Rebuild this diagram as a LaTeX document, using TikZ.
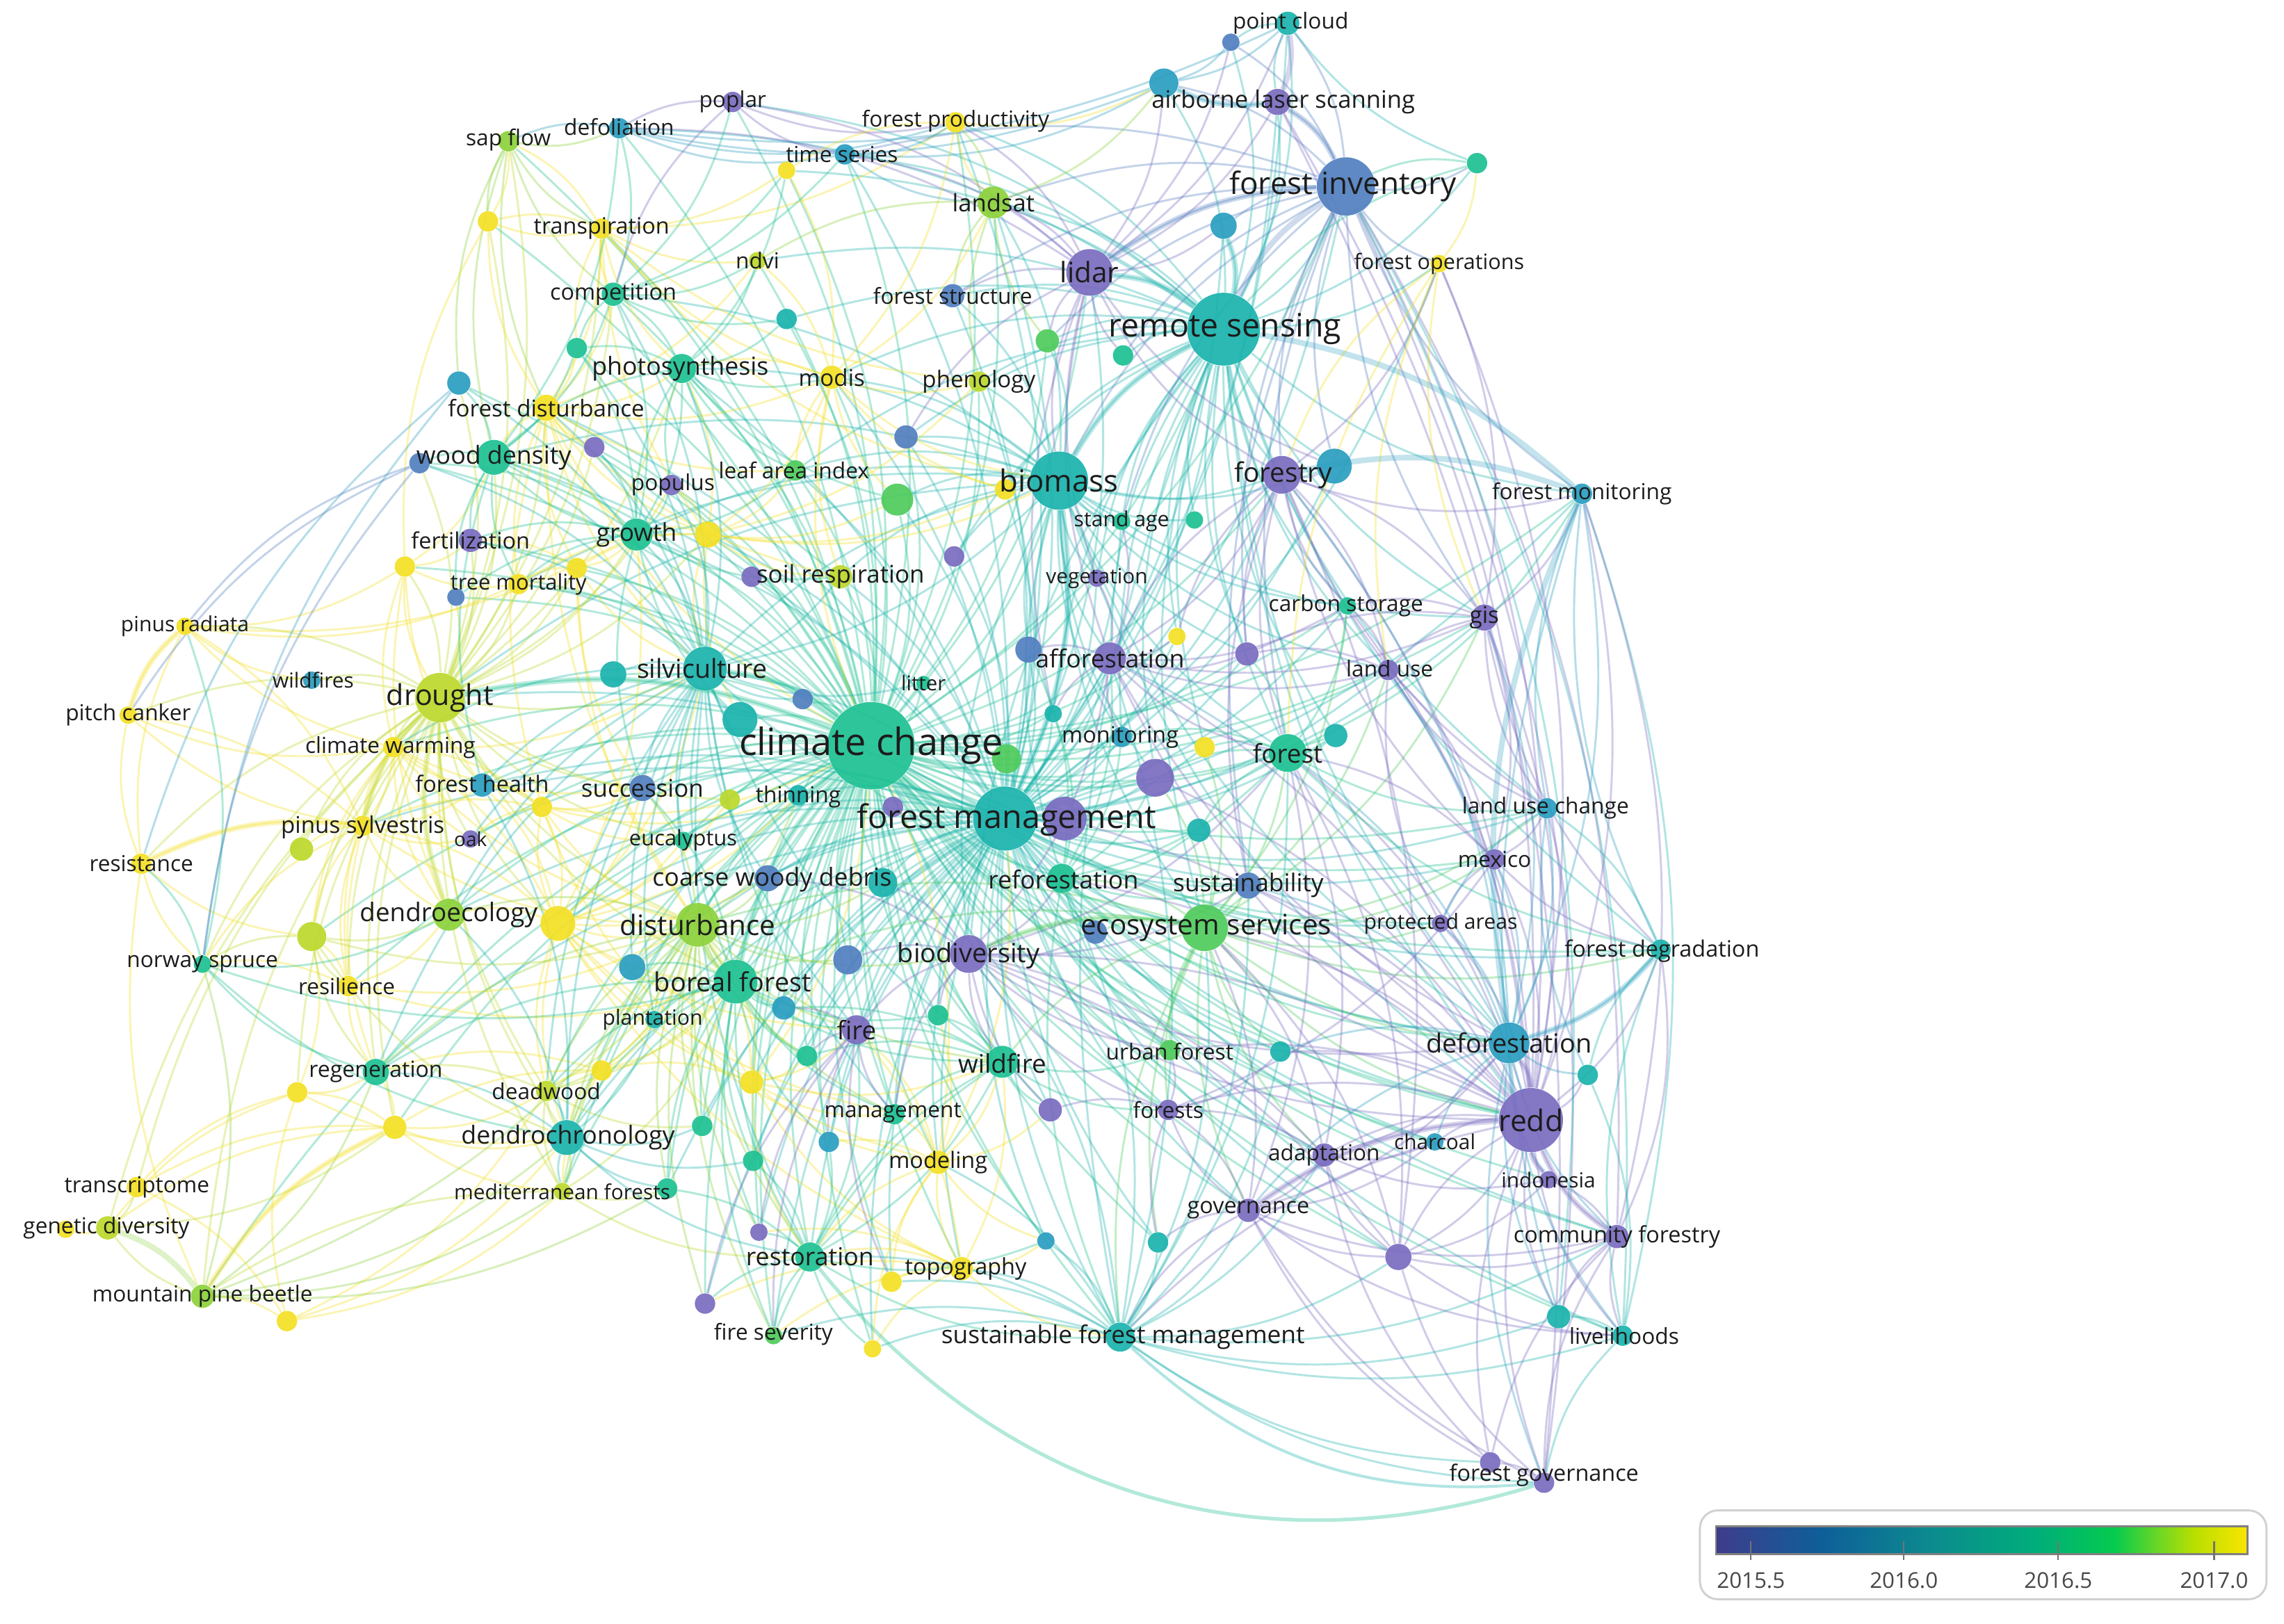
\documentclass[tikz,border=0pt]{standalone}
\usepackage{fontspec}
\setmainfont{Open Sans}
\definecolor{cP}{HTML}{7A6CC0}
\definecolor{cB}{HTML}{527FC0}
\definecolor{cT}{HTML}{2A9EC0}
\definecolor{cS}{HTML}{1BB3AD}
\definecolor{cG}{HTML}{1EC193}
\definecolor{cH}{HTML}{4FCB5C}
\definecolor{cL}{HTML}{8CD23A}
\definecolor{cX}{HTML}{BCD92C}
\definecolor{cY}{HTML}{F4E024}
\definecolor{txt}{HTML}{1C1C1C}
\definecolor{v0}{HTML}{3F3C8C}
\definecolor{v1}{HTML}{0E5F99}
\definecolor{v2}{HTML}{0C8A8F}
\definecolor{v3}{HTML}{00AD7B}
\definecolor{v4}{HTML}{05CB4E}
\definecolor{v5}{HTML}{5ED52A}
\definecolor{v6}{HTML}{BADF00}
\definecolor{v7}{HTML}{FAE500}
\pgfdeclarehorizontalshading{viridisbar}{100bp}{color(0bp)=(v0); color(25bp)=(v0); color(35bp)=(v1); color(45bp)=(v2); color(55bp)=(v3); color(62.5bp)=(v4); color(66bp)=(v5); color(70bp)=(v6); color(75bp)=(v7); color(100bp)=(v7)}
\pgfdeclarelayer{back}
\pgfdeclarelayer{bg}
\pgfsetlayers{back,bg,main}
\tikzset{
  kwc/.style={circle, inner sep=0pt, draw=none, fill opacity=0.92},
  lbl/.style={inner sep=0pt, text=txt},
  lnk/.style={line width=0.8pt, draw opacity=0.34},
  strong/.style={line width=2.2pt, draw opacity=0.28},
  legtxt/.style={inner sep=0pt, text=black!72, font=\fontsize{8.5}{8.5}\selectfont}
}
\newcommand\kw[5]{\colorlet{col#1}{#5}\node[kwc, fill=#5, minimum size={#4*0.4mm}] (#1) at (#2,#3) {};}
\newcommand\lb[5]{\node[lbl, font=\fontsize{#4}{#4}\selectfont] (#1l) at (#2,#3) {#5};}
\begin{document}
\begin{tikzpicture}[x=0.2mm, y=-0.2mm]
\useasboundingbox (0,0) rectangle (1568,1115);
\begin{pgfonlayer}{back}
\fill[white] (0,0) rectangle (1568,1115);
\end{pgfonlayer}
% ---------------- circles ----------------
\kw{pc}{884}{16}{8}{cS}
\kw{pcb}{845}{29}{6}{cB}
\kw{als}{877}{70}{9}{cP}
\kw{alst}{799}{57}{10}{cT}
\kw{pop}{503}{70}{7}{cP}
\kw{def}{425}{88}{7}{cT}
\kw{sap}{349}{97}{7}{cL}
\kw{fp}{656}{84}{7}{cY}
\kw{ts}{580}{106}{7}{cT}
\kw{tsy}{540}{117}{6}{cY}
\kw{fi}{924}{128}{20}{cB}
\kw{fig}{1014}{112}{7}{cG}
\kw{tr}{413}{157}{7}{cY}
\kw{try}{335}{152}{7}{cY}
\kw{ls}{682}{139}{11}{cL}
\kw{fit}{840}{155}{9}{cT}
\kw{ndvi}{520}{179}{6}{cX}
\kw{fo}{988}{181}{6}{cY}
\kw{lid}{748}{187}{16}{cP}
\kw{comp}{421}{202}{8}{cG}
\kw{fstr}{654}{203}{8}{cB}
\kw{u19}{540}{219}{7}{cS}
\kw{rs}{840}{226}{25}{cS}
\kw{u21a}{719}{234}{8}{cH}
\kw{u21b}{771}{244}{7}{cG}
\kw{u22}{396}{239}{7}{cG}
\kw{ph}{468}{253}{10}{cG}
\kw{mod}{571}{259}{8}{cY}
\kw{phen}{672}{262}{7}{cX}
\kw{u26}{315}{263}{8}{cT}
\kw{fd}{375}{280}{9}{cY}
\kw{wd}{339}{314}{12}{cG}
\kw{wdb}{288}{318}{7}{cB}
\kw{u29}{408}{307}{7}{cP}
\kw{u30}{622}{300}{8}{cB}
\kw{popu}{461}{333}{7}{cP}
\kw{lai}{546}{323}{7}{cH}
\kw{u33}{616}{343}{11}{cH}
\kw{u34}{690}{336}{7}{cY}
\kw{bio}{727}{330}{20}{cS}
\kw{fy}{880}{326}{13}{cP}
\kw{fyb}{916}{320}{12}{cT}
\kw{fm}{1086}{339}{7}{cT}
\kw{sa}{770}{358}{6}{cG}
\kw{sag}{820}{357}{6}{cG}
\kw{fert}{323}{371}{8}{cP}
\kw{gro}{437}{367}{11}{cG}
\kw{u41}{486}{367}{9}{cY}
\kw{u42a}{278}{389}{7}{cY}
\kw{u42b}{396}{390}{7}{cY}
\kw{tm}{356}{401}{7}{cY}
\kw{tmb}{313}{410}{6}{cB}
\kw{sr}{577}{396}{8}{cX}
\kw{srp}{516}{396}{7}{cP}
\kw{u45}{655}{382}{7}{cP}
\kw{veg}{753}{397}{6}{cP}
\kw{cs}{925}{416}{6}{cG}
\kw{gis}{1019}{424}{9}{cP}
\kw{pr}{127}{430}{6}{cY}
\kw{u50}{808}{437}{6}{cY}
\kw{u51}{856}{449}{8}{cP}
\kw{silv}{484}{459}{15}{cS}
\kw{silt}{421}{463}{9}{cS}
\kw{aff}{762}{452}{11}{cP}
\kw{affb}{706}{446}{9}{cB}
\kw{lu}{953}{460}{7}{cP}
\kw{wfs}{214}{467}{6}{cT}
\kw{lit}{634}{469}{5}{cG}
\kw{dro}{302}{479}{17}{cX}
\kw{pcan}{88}{491}{6}{cY}
\kw{u59}{551}{480}{7}{cB}
\kw{u60}{508}{494}{12}{cS}
\kw{cc}{598}{512}{30}{cG}
\kw{u62}{723}{490}{6}{cS}
\kw{mon}{770}{506}{7}{cT}
\kw{u64}{827}{513}{7}{cY}
\kw{for}{884}{517}{13}{cG}
\kw{fort}{917}{505}{8}{cS}
\kw{cw}{270}{513}{7}{cY}
\kw{u67}{793}{534}{13}{cP}
\kw{u68}{691}{521}{10}{cH}
\kw{thin}{548}{546}{7}{cS}
\kw{thing}{501}{549}{7}{cX}
\kw{fh}{331}{539}{8}{cT}
\kw{succ}{441}{541}{9}{cB}
\kw{u72}{372}{554}{7}{cY}
\kw{luc}{1062}{555}{7}{cT}
\kw{fmg}{690}{562}{22}{cS}
\kw{fmgp}{731}{562}{15}{cP}
\kw{u74}{613}{554}{7}{cP}
\kw{u75}{823}{570}{8}{cS}
\kw{psy}{249}{567}{7}{cY}
\kw{psyg}{207}{583}{8}{cX}
\kw{oak}{323}{576}{6}{cP}
\kw{euc}{469}{577}{6}{cG}
\kw{mex}{1026}{590}{7}{cP}
\kw{res}{97}{593}{7}{cY}
\kw{cwd}{527}{603}{9}{cB}
\kw{cwdt}{606}{606}{10}{cS}
\kw{ref}{729}{603}{10}{cG}
\kw{sus}{857}{608}{9}{cB}
\kw{u84}{383}{634}{12}{cY}
\kw{deco}{308}{628}{11}{cL}
\kw{dist}{479}{635}{15}{cL}
\kw{es}{827}{637}{16}{cH}
\kw{esb}{752}{640}{8}{cB}
\kw{pa}{989}{634}{6}{cP}
\kw{u89}{214}{643}{10}{cX}
\kw{fdeg}{1140}{652}{7}{cS}
\kw{ns}{139}{662}{6}{cG}
\kw{u92}{434}{664}{9}{cT}
\kw{u93}{582}{659}{10}{cB}
\kw{bd}{665}{655}{13}{cP}
\kw{bf}{505}{674}{15}{cG}
\kw{resil}{239}{677}{7}{cY}
\kw{u97}{538}{692}{8}{cT}
\kw{u98}{644}{697}{7}{cG}
\kw{plant}{449}{700}{6}{cS}
\kw{fire}{588}{707}{10}{cP}
\kw{wf}{688}{729}{11}{cG}
\kw{uf}{803}{721}{7}{cH}
\kw{u103}{879}{722}{7}{cS}
\kw{defo}{1036}{716}{14}{cT}
\kw{u105}{1090}{738}{7}{cS}
\kw{u106}{554}{725}{7}{cG}
\kw{regen}{258}{736}{9}{cG}
\kw{u108a}{204}{750}{7}{cY}
\kw{u108b}{413}{735}{7}{cY}
\kw{u109}{516}{743}{8}{cY}
\kw{dw}{375}{749}{7}{cX}
\kw{redd}{1051}{769}{22}{cP}
\kw{mgmt}{614}{765}{7}{cG}
\kw{u113}{721}{762}{8}{cP}
\kw{frs}{802}{762}{7}{cP}
\kw{u115}{271}{774}{8}{cY}
\kw{dc}{389}{781}{12}{cS}
\kw{u117a}{482}{773}{7}{cG}
\kw{u117b}{569}{784}{7}{cT}
\kw{char}{985}{784}{6}{cT}
\kw{adap}{909}{793}{8}{cP}
\kw{u120}{517}{797}{7}{cG}
\kw{model}{644}{798}{8}{cY}
\kw{indo}{1063}{810}{6}{cP}
\kw{trans}{94}{815}{7}{cY}
\kw{medf}{386}{818}{6}{cX}
\kw{u124}{458}{816}{7}{cG}
\kw{gov}{857}{831}{8}{cP}
\kw{gd}{74}{843}{8}{cX}
\kw{gdy}{45}{844}{6}{cY}
\kw{cf}{1110}{849}{8}{cP}
\kw{u128}{521}{846}{6}{cP}
\kw{u129a}{718}{852}{6}{cT}
\kw{u129b}{795}{853}{7}{cS}
\kw{u130}{960}{863}{9}{cP}
\kw{rest}{556}{863}{10}{cG}
\kw{topo}{660}{871}{8}{cY}
\kw{u132}{612}{880}{7}{cY}
\kw{mpb}{139}{890}{8}{cL}
\kw{mpby}{197}{907}{7}{cY}
\kw{u134}{484}{895}{7}{cP}
\kw{u135}{1070}{904}{8}{cS}
\kw{fsev}{531}{917}{6}{cH}
\kw{u137}{599}{926}{6}{cY}
\kw{sfm}{769}{918}{10}{cS}
\kw{liv}{1114}{917}{7}{cS}
\kw{fgov}{1060}{1018}{7}{cP}
\kw{fgovb}{1023}{1004}{7}{cP}
% ---------------- labels ----------------
\lb{pc}{886}{16}{8.6}{point cloud}
\lb{als}{881}{70}{9.4}{airborne laser scanning}
\lb{pop}{503}{70}{8.6}{poplar}
\lb{def}{425}{87}{8.6}{defoliation}
\lb{sap}{349}{96}{8.6}{sap flow}
\lb{fp}{656}{83}{8.6}{forest productivity}
\lb{ts}{578}{106}{8.6}{time series}
\lb{fi}{922}{128}{12}{forest inventory}
\lb{tr}{413}{157}{8.8}{transpiration}
\lb{ls}{682}{139}{9.4}{landsat}
\lb{ndvi}{520}{179}{8.6}{ndvi}
\lb{fo}{988}{181}{8.3}{forest operations}
\lb{lid}{748}{187}{11}{lidar}
\lb{comp}{421}{202}{8.8}{competition}
\lb{fstr}{654}{203}{8.6}{forest structure}
\lb{rs}{841}{226}{12.6}{remote sensing}
\lb{ph}{467}{253}{9.7}{photosynthesis}
\lb{mod}{571}{259}{9}{modis}
\lb{phen}{672}{262}{9}{phenology}
\lb{fd}{375}{280}{9}{forest disturbance}
\lb{wd}{339}{314}{9.7}{wood density}
\lb{popu}{462}{333}{8.6}{populus}
\lb{lai}{545}{323}{8.6}{leaf area index}
\lb{bio}{727}{330}{11.9}{biomass}
\lb{fy}{881}{326}{10.5}{forestry}
\lb{fm}{1086}{339}{8.6}{forest monitoring}
\lb{sa}{770}{358}{8.2}{stand age}
\lb{fert}{323}{371}{8.8}{fertilization}
\lb{gro}{437}{367}{9.6}{growth}
\lb{tm}{356}{401}{8.4}{tree mortality}
\lb{sr}{577}{396}{9.5}{soil respiration}
\lb{veg}{753}{397}{8.1}{vegetation}
\lb{cs}{924}{416}{8.6}{carbon storage}
\lb{gis}{1019}{424}{9}{gis}
\lb{pr}{127}{430}{8.2}{pinus radiata}
\lb{silv}{482}{459}{10.2}{silviculture}
\lb{aff}{762}{452}{9.7}{afforestation}
\lb{lu}{954}{459}{8.6}{land use}
\lb{wfs}{215}{467}{8.1}{wildfires}
\lb{lit}{634}{469}{8}{litter}
\lb{dro}{302}{479}{11.2}{drought}
\lb{pcan}{88}{491}{8.6}{pitch canker}
\lb{cc}{598}{512}{14.7}{climate change}
\lb{mon}{769}{506}{8.8}{monitoring}
\lb{for}{884}{517}{10}{forest}
\lb{cw}{268}{513}{8.6}{climate warming}
\lb{thin}{548}{547}{8.6}{thinning}
\lb{fh}{331}{538}{8.8}{forest health}
\lb{succ}{441}{541}{9.5}{succession}
\lb{luc}{1061}{555}{8.6}{land use change}
\lb{fmg}{691}{563}{12.7}{forest management}
\lb{psy}{249}{568}{9}{pinus sylvestris}
\lb{oak}{323}{576}{7.6}{oak}
\lb{euc}{469}{577}{8.4}{eucalyptus}
\lb{mex}{1026}{590}{8.6}{mexico}
\lb{res}{97}{593}{8.6}{resistance}
\lb{cwd}{530}{604}{9.7}{coarse woody debris}
\lb{ref}{730}{604}{9.7}{reforestation}
\lb{sus}{857}{608}{9.6}{sustainability}
\lb{deco}{308}{628}{10}{dendroecology}
\lb{dist}{479}{635}{11}{disturbance}
\lb{es}{828}{637}{11}{ecosystem services}
\lb{pa}{989}{634}{8.2}{protected areas}
\lb{fdeg}{1141}{653}{8.8}{forest degradation}
\lb{ns}{139}{662}{8.6}{norway spruce}
\lb{bd}{665}{656}{10.3}{biodiversity}
\lb{bf}{503}{674}{10.3}{boreal forest}
\lb{resil}{238}{677}{8.6}{resilience}
\lb{plant}{448}{700}{8.2}{plantation}
\lb{fire}{588}{707}{10}{fire}
\lb{wf}{688}{730}{10}{wildfire}
\lb{uf}{803}{722}{8.6}{urban forest}
\lb{defo}{1036}{716}{10.3}{deforestation}
\lb{regen}{258}{736}{8.7}{regeneration}
\lb{dw}{375}{749}{8.6}{deadwood}
\lb{redd}{1051}{769}{11.6}{redd}
\lb{mgmt}{613}{764}{8.6}{management}
\lb{frs}{802}{762}{8.6}{forests}
\lb{dc}{390}{781}{9.7}{dendrochronology}
\lb{char}{985}{784}{8.1}{charcoal}
\lb{adap}{909}{793}{8.6}{adaptation}
\lb{model}{644}{798}{8.8}{modeling}
\lb{indo}{1063}{810}{8.1}{indonesia}
\lb{trans}{94}{815}{8.6}{transcriptome}
\lb{medf}{386}{818}{8.1}{mediterranean forests}
\lb{gov}{857}{831}{8.8}{governance}
\lb{gd}{73}{843}{8.6}{genetic diversity}
\lb{cf}{1110}{849}{8.8}{community forestry}
\lb{rest}{556}{863}{9.7}{restoration}
\lb{topo}{663}{871}{8.8}{topography}
\lb{mpb}{139}{890}{8.6}{mountain pine beetle}
\lb{fsev}{531}{916}{8.6}{fire severity}
\lb{sfm}{771}{918}{9.6}{sustainable forest management}
\lb{liv}{1115}{917}{8.6}{livelihoods}
\lb{fgov}{1060}{1013}{8.8}{forest governance}
% ---------------- links ----------------
\begin{pgfonlayer}{bg}
\foreach \a/\l in {
 cc/{silv,dro,bio,rs,fmg,dist,bf,es,bd,fire,wf,dc,rest,aff,ref,for,redd,defo,gro,ph,succ,thin,cwd,mon,lid,fi,fy,u60,u59,sr,mgmt,dw,deco,regen,fh,wd,comp,lai,phen,ls,ts,euc,plant,u93,u97,u106,sus,adap,sfm,uf,frs,lit,veg,u33,u30,u68,u67,fort,u75,cwdt,u92,u124,u120,tm,fert,u22,u19,u62,u21a,popu,srp,gov,u113},
 cc/{model,topo,u84,u89,psy,cw,resil,mpb,u109,u108b,u117a,u117b,u128,u134,fsev,u132,u137,medf,u115,sap,tr,def,pop,fp,tsy,ndvi,mod,try,fd,u26,wdb,u29,u41,u42a,u42b,tmb,oak,thing,silt,u74,u98,fmgp,esb,cs,lu,gis,luc,mex,pa,fdeg,fm,u50,u51,u64,u103,u129a,u129b,u130,char,indo,cf,liv},
 fmg/{rs,bio,lid,fi,fy,for,es,bd,ref,aff,sus,sfm,defo,redd,dist,bf,silv,dro,fire,wf,rest,mgmt,thin,cwd,mon,uf,frs,gov,adap,gis,lu,luc,mex,fdeg,cs,veg,sa,u67,u75,fort,u113,u129a,u129b,u103,pa,cf,liv,fm,u98,u93,cwdt,dc,gro,succ,u64,u50,u51,fyb,fstr,u45,affb,esb,char,u130},
 fmg/{fd,u84,psy,deco,regen,plant,u92,u97,u106,u109,u117a,u117b,u120,u124,u128,model,topo,u132,u137,fsev,u134,euc,fh,wd,ph,sr,lai,u33,u30,u34,u41,u62,u68,mod,phen,ls,ts,fp,fo,fit,als,pc},
 rs/{fi,lid,bio,fy,ls,fstr,fit,pc,pcb,als,alst,fm,fo,gis,lu,luc,defo,redd,for,mon,es,phen,mod,ndvi,ts,fp,u21a,u21b,sa,sag,aff,veg,cs,fort,u64,fdeg,sfm,u30,u34,u45,lai,bd,u62,u67,fig,u51,u50,fyb,pop,def,u19,tsy},
 fi/{lid,als,pc,pcb,alst,fit,fig,fo,bio,fy,fstr,ls,fm,for,gis,u51,sus,fyb,sa,u21a,u21b,ts},
 lid/{als,pc,pcb,fit,alst,fstr,bio,ls,fy,u21a,u21b,aff,u62,ts,fp,pop,def,fyb,veg,u30},
 bio/{fy,ls,fstr,sa,sag,aff,veg,lai,u33,u34,gro,ph,sr,u45,affb,mon,es,for,defo,redd,cs,u30,u62,u67,bd,wd,comp,tm,dro,silv,ref,u21a,phen,mod,fyb,gis,lu,u51},
 dro/{silv,gro,tm,fert,cw,fh,psy,psyg,deco,dc,wd,fd,tr,sap,comp,ph,pr,pcan,res,wfs,oak,u42a,u42b,u72,u84,u89,resil,regen,ns,dist,bf,succ,u26,wdb,tmb,try,mpb,gd,trans,u108a,u115,dw,medf,u41,euc,thing,popu,u29},
 fd/{tr,comp,ph,gro,u41,mod,ndvi,lai,u42b,u22,wd,tm,u29,sr,cc,silv,dist,u72},
 u84/{dist,silv,gro,succ,cwd,bf,fire,thin,u72,deco,dc,dw,psy,cw,fh,u109,mgmt,model,topo,thing,euc},
 u41/{gro,ph,sr,lai,u33,bio,u34,silv,popu,tm,u42b,u60,mod,phen},
 tr/{try,sap,comp,ph,ndvi,mod,u22,fp,tsy,phen,u41,u34},
 mod/{ndvi,ls,phen,lai,u33,ph,tsy,fp,sr,u34,bio,cc},
 u72/{fh,succ,oak,cw,psy,dist,thin,euc,u84,cc,u109},
 u109/{bf,fire,wf,model,topo,mgmt,u106,u108b,rest,dist,u92,cc},
 u108b/{dw,dc,plant,bf,medf,u115,regen,dist},
 model/{topo,mgmt,u132,wf,fire,u117b,u113,rest,u137,u129a,cc,fmg,u98},
 topo/{u132,rest,fire,u129a,u137,u128,wf,u134,sfm,fsev},
 psy/{res,pcan,pr,psyg,deco,u89,resil,cw,fh,oak,regen,ns,dist},
 pr/{pcan,res,cw,wfs,tm,u42a,gro},
 pcan/{res,cw,psy},
 res/{ns,u89,mpb},
 u115/{trans,gd,regen,u108a,dc,dw,medf,mpb},
 u108a/{trans,gd,regen,u89,dc,mpby},
 mpby/{mpb,trans,dw,dc,medf},
 gdy/{gd},
 gd/{trans,mpb,u115},
 sap/{try,tr,def,comp,fd,u26,wd},
 try/{tr,fd,sap,u42a},
 u42a/{fert,tm,wd,cw,deco,dro,fh},
 u42b/{gro,tm,fert,silv,succ,dist},
 cw/{fh,psy,oak,resil,deco,succ,dist,silv,u89},
 resil/{u89,regen,ns,deco,dist,bf},
 u89/{deco,ns,regen,dc,dist,resil},
 dw/{dc,regen,medf,plant,bf,dist,u117a},
 medf/{dc,mpb,rest,u124,bf},
 mpb/{dc,medf,regen,ns,dist,u124},
 ns/{regen,dc,deco,bf,pr,res},
 u26/{ns,res},
 wdb/{ns,pr,pcan},
 silv/{gro,succ,thin,cwd,dist,bf,dc,regen,deco,fh,euc,plant,wd,comp,ph,u60,silt,u59,fd,tm,fert,u92,dw,rest,fire,wf,mgmt,sr,popu,u29,lit,u22,wdb,u26,cw,oak,fmg,bio},
 dist/{bf,fire,wf,dc,rest,regen,succ,cwd,plant,u92,u93,u97,deco,dw,medf,u106,bd,fsev,mgmt,u117a,u124,u128,u134,thin,cwdt},
 bf/{fire,wf,dc,rest,plant,u97,u106,u117a,u117b,u120,u124,cwd,succ,regen,dw,medf,fsev,u128,mgmt,u92,u98},
 dc/{regen,dw,u124,u117a,deco,plant,fh,medf,u120,rest},
 rest/{fsev,u128,u134,u137,sfm,fire,wf,mgmt,u120,u117b,u124,u129a},
 wf/{fire,mgmt,rest,u98,u106,u97,fsev,u113,frs,uf},
 fire/{fsev,u128,u132,u106,u117b,u97,mgmt,u134},
 gro/{ph,comp,wd,fert,tm,u22,popu,lai,sr,u29,u60,succ,wdb,tmb},
 ph/{comp,u22,lai,sr,popu,u19,gro,wd,mod,tsy,ndvi,u33},
 wd/{wdb,fert,comp,u26,u22,tm,tmb,fh,gro,def},
 comp/{u22,def,ts,pop,tsy,ndvi,u19},
 es/{bd,sus,uf,frs,for,defo,redd,gov,adap,pa,mex,luc,lu,u103,u75,esb,ref,sfm,u129b,fdeg,u67,u64,cs,gis,bf,dist,wf},
 bd/{ref,aff,sus,fire,wf,u93,u98,cwdt,uf,frs,mgmt,esb,redd,defo,cwd,for,u113},
 ref/{aff,sus,esb,u75,for,u67,defo,redd,u62,affb,sfm,mon,uf},
 aff/{affb,veg,u50,u51,lu,cs,for,fy,mon,u62,defo,redd,gis,sa},
 redd/{defo,indo,cf,liv,char,adap,gov,frs,mex,pa,luc,fdeg,u105,u130,u135,fgov,fgovb,lu,gis,for,fy,sfm,uf,u103,cs,sus,aff,ref,es,bd,u67,fmgp},
 redd/{fi,als,fm,fo},
 fgov/{fi,als},
 liv/{fi,fm},
 cf/{fi,fm},
 u135/{fi},
 defo/{luc,fdeg,mex,indo,u105,cf,liv,u135,char,gov,fgov,pa,lu,gis,fm,for,fy,u103,sus,aff},
 gov/{adap,char,u130,frs,sfm,cf,liv,fgovb,fgov,u129b,es,defo,for},
 adap/{char,frs,u130,fgovb,indo,es,for,bd,defo},
 u130/{liv,cf,fgov,indo,redd,es,for,bd,fy},
 cf/{liv,u135,fgov,indo,fgovb,fdeg},
 frs/{uf,u113,u103,u129b,gov,mex},
 mex/{luc,pa,lu,gis,fdeg,for},
 gis/{lu,cs,luc,fm,fo,fy,u51,fdeg},
 lu/{luc,cs,u51,pa,fy},
 fy/{fyb,cs,u51,sus,fm,fo,u50,luc,mex,for,aff},
 for/{fort,u64,mon,luc,cs,u51,sus,u67,fm,fdeg,u75},
 sfm/{u129b,u129a,cf,liv,fgov,u135,u103,fgovb,rest,topo,u132,u137,fsev,model,bd,es,ref,aff,sus,for,gov,adap,u130},
 fm/{luc,fdeg,u135},
 fdeg/{luc,u105,liv},
 luc/{u105,pa},
 liv/{u135,u105,fgov},
 fgov/{fgovb},
 fo/{fig,fy,lu,gis,for},
 fig/{fi,rs},
 pop/{def,fp,ts,comp},
 def/{sap,ts,fp,pc,alst},
 ts/{fp,alst,ls},
 fp/{alst,ls,tsy},
 ls/{ndvi,phen,fp,alst,u21a,fstr},
 alst/{pc,als,pcb},
 pc/{pcb,als,fig}}{
  \foreach \b in \l {
    \draw[lnk, draw=col\a] (\a) to[bend right=16] (\b);
  }
}
\foreach \a/\b in {fi/rs, fi/lid, fi/als, rs/lid, rs/bio, cc/fmg, cc/silv, cc/dro, redd/defo, redd/cf, redd/indo, defo/fdeg, es/bd, fmg/bio, dro/psy, dro/deco, psy/res, pr/pcan, mpb/gd, u115/mpb, fm/defo, fm/fy, fm/rs, rs/fit, als/pc, alst/als, cc/bf, dist/bf, redd/gov}{
  \draw[strong, draw=col\a] (\a) to[bend right=16] (\b);
}
\draw[lnk, line width=1.4pt, draw=colrest] (rest) to[bend right=34] (fgov);
\draw[lnk, line width=1.1pt, draw=colsfm] (sfm) to[bend right=24] (fgov);
\end{pgfonlayer}
% ---------------- legend ----------------
\node[draw=black!18, line width=0.8pt, rounded corners=7pt, fill=white, minimum width=389*0.2mm, minimum height=61*0.2mm, inner sep=0pt] (legbox) at (1361.5,1067.5) {};
\node[draw=black!50, line width=0.8pt, shading=viridisbar, minimum width=365*0.2mm, minimum height=19*0.2mm, inner sep=0pt] (legbar) at (1360.5,1057.5) {};
\foreach \x/\t in {1202/2015.5, 1307/2016.0, 1413/2016.5, 1520/2017.0}{
  \coordinate (tk\x) at (\x,1058);
  \draw[black!55, line width=0.6pt] (tk\x) -- ++(0,13);
  \node[legtxt] (tl\x) at (\x,1085) {\t};
}
\end{tikzpicture}
\end{document}
